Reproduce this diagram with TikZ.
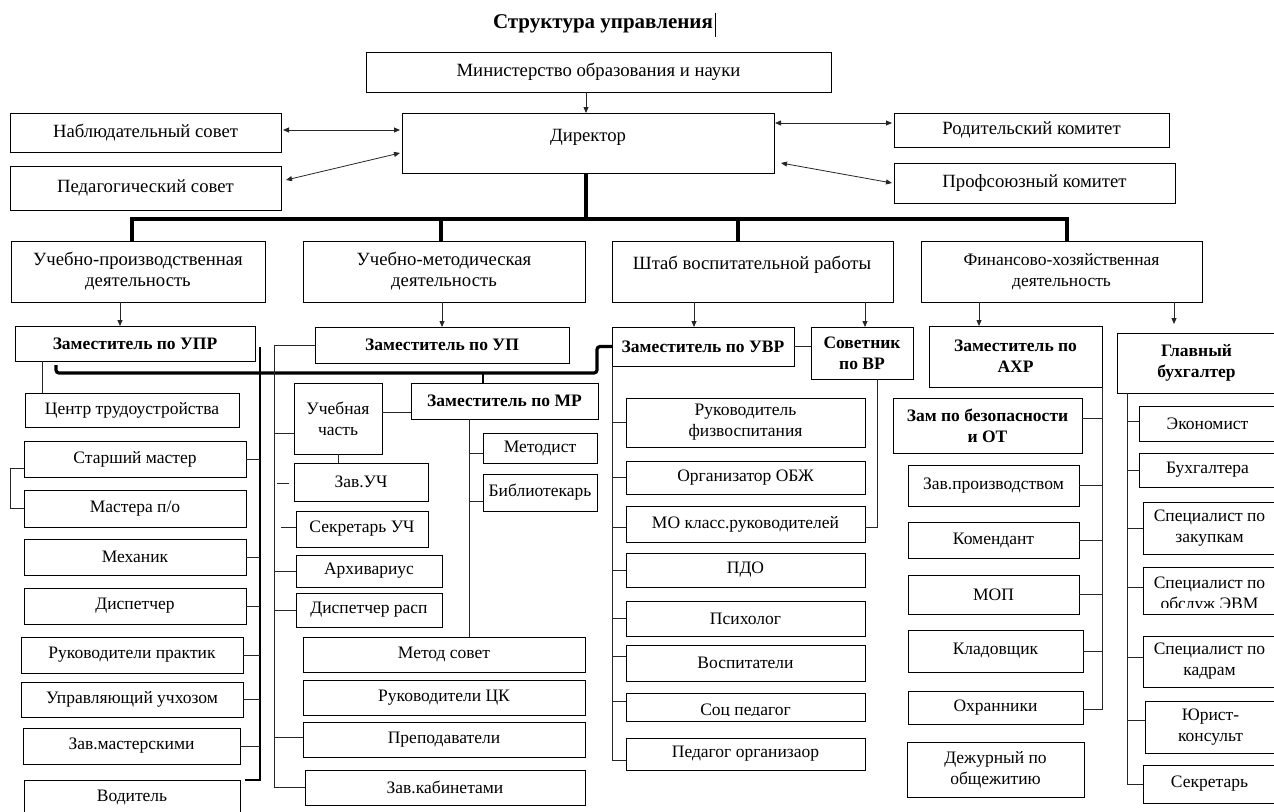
\documentclass[tikz,border=0pt]{standalone}
\usepackage{fontspec}
\setmainfont{Liberation Serif}
\usetikzlibrary{arrows.meta}
\newcommand\fs{\fontsize{17.5}{21}\selectfont}
\newcommand\fsb{\fontsize{18.7}{21}\selectfont}
\newcommand\bx[7][]{%
  \pgfmathsetmacro\bxw{#5-#3}\pgfmathsetmacro\bxh{#6-#4}%
  \pgfmathsetmacro\bxx{(#3+#5)/2}\pgfmathsetmacro\bxy{(#4+#6)/2}%
  \node[box,minimum width=\bxw pt,minimum height=\bxh pt,#1] (#2) at (\bxx,\bxy) {#7};}
\tikzset{
  box/.style={draw=black, line width=0.9pt, inner sep=0pt, outer sep=0pt, align=center, font=\fs},
  bf/.style={font=\fs\bfseries},
  big/.style={font=\fsb},
  txt/.style={inner sep=0pt, font=\fs, align=center},
  conn/.style={draw=black!85, line width=0.8pt},
  arr/.style={conn, -{Triangle[length=6pt,width=5pt]}},
  dbl/.style={conn, {Triangle[length=6pt,width=5pt]}-{Triangle[length=6pt,width=5pt]}},
  thickl/.style={line width=3.2pt},
  spine/.style={draw=black, line width=1.6pt},
}
\begin{document}
\begin{tikzpicture}[x=1pt,y=-1pt]
\useasboundingbox (0,0) rectangle (1274,811);
\fill[white] (0,0) rectangle (1274,811);
\clip (0,0) rectangle (1274,811);

% title
\node[inner sep=0pt, font=\fontsize{21}{24}\selectfont\bfseries] (title) at (603,24) {Структура управления};
\draw[line width=0.7pt] ([xshift=2pt,yshift=2pt]title.north east) -- ([xshift=2pt,yshift=-4pt]title.south east);

% top level
\bx[big]{min}{366}{52}{831}{92}{Министерство образования и науки}
\bx{dir}{402}{113}{774}{173}{}
\node[txt, font=\fsb] (dirt) at (588,137) {Директор};
\bx[big]{nab}{10}{113}{281}{152}{Наблюдательный совет}
\bx[big]{ped}{10}{166}{281}{210}{Педагогический совет}
\bx[big]{rod}{894}{113}{1169}{147}{Родительский комитет}
\bx[big]{prof}{894}{163}{1175}{203}{Профсоюзный комитет}

\coordinate (cx) at (586,0);
\draw[arr] (min.south -| cx) -- (dir.north -| cx);
\draw[dbl] ([xshift=2pt,yshift=2.5pt]nab.east) -- ([xshift=-2pt,yshift=13pt]dir.west);
\draw[dbl] ([xshift=5pt,yshift=8pt]ped.east) -- ([xshift=-2pt,yshift=-10pt]dir.west);
\draw[dbl] ([xshift=1pt,yshift=20pt]dir.east) -- ([xshift=-2pt,yshift=7pt]rod.west);
\draw[dbl] ([xshift=7pt,yshift=-20pt]dir.east) -- ([xshift=-2pt]prof.west);

% level 2
\bx[big]{upr}{11}{241}{265}{302}{Учебно-производственная\\деятельность}
\bx[big]{um}{303}{241}{585}{302}{Учебно-методическая\\деятельность}
\bx{sht}{612}{241}{893}{302}{}
\node[txt, font=\fsb] (shtt) at (752,265) {Штаб воспитательной работы};
\bx{fin}{921}{241}{1202}{302}{Финансово-хозяйственная\\деятельность}

\coordinate (d1) at (132,219);
\coordinate (d2) at (441,219);
\coordinate (d3) at (738,219);
\coordinate (d4) at (1067,219);
\draw[thickl] (dir.south -| cx) -- (cx |- d1);
\draw[thickl] (d1 |- upr.north) -- (d1) -- (d4) -- (d4 |- fin.north);
\draw[thickl] (d2) -- (d2 |- um.north);
\draw[thickl] (d3) -- (d3 |- sht.north);

% level 3
\bx[bf]{zupr}{15}{326}{255}{361}{Заместитель по УПР}
\bx[bf]{zup}{315}{327}{569}{363}{Заместитель по УП}
\bx[bf]{zuvr}{612}{327}{794}{366}{Заместитель по УВР}
\bx[bf]{sov}{811}{327}{913}{379}{Советник\\по ВР}
\bx[bf]{zaxr}{929}{326}{1102}{387}{Заместитель по\\АХР}
\bx[bf]{gb}{1117}{333}{1276}{393}{Главный\\бухгалтер}

\coordinate (a1) at (120,0);
\coordinate (a2) at (442,0);
\coordinate (a3) at (694,0);
\coordinate (a4) at (865,0);
\coordinate (a5) at (979,0);
\coordinate (a6) at (1174,0);
\draw[arr] (upr.south -| a1) -- (zupr.north -| a1);
\draw[arr] (um.south -| a2) -- (zup.north -| a2);
\draw[arr] (sht.south -| a3) -- (zuvr.north -| a3);
\draw[arr] (sht.south -| a4) -- (sov.north -| a4);
\draw[arr] (fin.south -| a5) -- (zaxr.north -| a5);
\draw[arr, shorten >=9pt] (fin.south -| a6) -- (gb.north -| a6);

% thick link line
\coordinate (L1) at (56,365);
\coordinate (L2) at (597,373);
\coordinate (L3) at (483,373);
\draw[thickl, rounded corners=3pt] (L1) |- (L2) |- (zuvr.west);

% ---- UPR column
\bx{ctr}{25}{393}{239}{427}{Центр трудоустройства}
\bx{stm}{24}{441}{246}{477}{Старший мастер}
\bx{mpo}{24}{490}{246}{527}{Мастера п/о}
\bx{mech}{24}{539}{246}{575}{Механик}
\bx{disp}{24}{588}{246}{624}{Диспетчер}
\bx{rp}{21}{637}{243}{673}{Руководители практик}
\bx{uu}{21}{682}{243}{717}{Управляющий учхозом}
\bx{zm}{23}{728}{240}{764}{Зав.мастерскими}
\bx{vod}{24}{780}{240}{815}{Водитель}

\coordinate (s1t) at (260,347);
\coordinate (s1b) at (260,780);
\draw[spine] (s1t) -- (s1b) -- ([xshift=5pt]vod.north east);
\foreach \n in {stm,mech,disp,rp,uu,zm} \draw[conn] (\n.east) -- (\n.east -| s1t);
\coordinate (c1) at (42,0);
\draw[conn] (zupr.south -| c1) -- (ctr.north -| c1);
\coordinate (br) at (10,0);
\draw[conn] ([yshift=-9pt]stm.west) -| (br |- mpo.west) -- (mpo.west);

% ---- UP column
\bx{uchch}{294}{383}{382}{454}{Учебная\\часть}
\bx[bf]{zmr}{411}{383}{598}{419}{Заместитель по МР}
\bx{zuch}{294}{463}{428}{501}{Зав.УЧ}
\bx{sekr}{296}{511}{428}{547}{Секретарь УЧ}
\bx{arh}{296}{555}{442}{587}{Архивариус}
\bx{dr}{296}{593}{442}{627}{Диспетчер расп}
\bx{metd}{483}{433}{597}{463}{Методист}
\bx{bibl}{483}{474}{597}{511}{Библиотекарь}
\bx{metsov}{303}{637}{585}{672}{Метод совет}
\bx{rck}{303}{680}{585}{715}{Руководители ЦК}
\bx{prep}{303}{722}{585}{757}{Преподаватели}
\bx{zkab}{305}{770}{585}{805}{Зав.кабинетами}

\coordinate (s2) at (274,0);
\draw[conn] (zup.west) -- (zup.west -| s2) -- (s2 |- zkab.west) -- (zkab.west);
\draw[conn] ([yshift=-14.5pt]uchch.west) -- ++(-20,0);
\draw[conn] ([xshift=-5pt,yshift=-1pt]zuch.west) -- ++(-12,0);
\draw[conn] ([yshift=2pt]sekr.west) -- ++(-15,0);
\draw[conn] (arh.west) -- (arh.west -| s2);
\draw[conn] (dr.west) -- (dr.west -| s2);
\draw[conn] ([yshift=2pt]prep.west) -- ++(-29,0);
\draw[conn] ([yshift=6.5pt]uchch.east) -- ++(29,0);
\draw[conn] (uchch.south) -- (uchch.south |- zuch.north);
\draw[line width=2pt] (L3) -- (L3 |- zmr.north);
\coordinate (s3) at (469,0);
\draw[conn] (zmr.south -| s3) -- (metsov.north -| s3);
\draw[conn] ([yshift=-5pt]metd.west) -- ++(-14,0);
\draw[conn] ([yshift=-8.5pt]bibl.west) -- ++(-14,0);

% ---- UVR column
\bx{rf}{626}{398}{865}{447}{Руководитель\\физвоспитания}
\bx{obzh}{626}{461}{865}{494}{Организатор ОБЖ}
\bx{mo}{626}{506}{865}{542}{МО класс.руководителей}
\bx{pdo}{626}{553}{865}{587}{ПДО}
\bx{psy}{626}{601}{865}{636}{Психолог}
\bx{vosp}{626}{645}{865}{681}{Воспитатели}
\bx{socp}{626}{693}{865}{721}{}
\begin{scope}
\clip (626,693) rectangle (865,715);
\node[font=\fs, inner sep=0pt, anchor=base] (socpt) at (745.5,715.5) {Соц педагог};
\end{scope}
\bx{po}{626}{738}{865}{770}{Педагог организаор}

\draw[conn] (zuvr.south west) |- ([yshift=-6pt]po.west);
\foreach \n in {rf,obzh,pdo,psy} \draw[conn] (\n.west) -- ++(-14,0);
\draw[conn] ([yshift=-3pt]mo.west) -- ++(-14,0);
\draw[conn] ([yshift=7pt]vosp.west) -- ++(-14,0);
\draw[conn] ([yshift=6pt]socp.west) -- ++(-14,0);
\draw[conn] (zuvr.east) -- (zuvr.east -| sov.west);
\draw[conn] ([xshift=15pt]sov.south) |- ([yshift=-3pt]mo.east);

% ---- AXR column
\bx[bf]{zbez}{893}{398}{1082}{453}{Зам по безопасности\\и ОТ}
\bx{zpr}{908}{465}{1079}{506}{Зав.производством}
\bx{kom}{908}{522}{1079}{558}{Комендант}
\bx{mop}{908}{575}{1079}{614}{МОП}
\bx{klad}{908}{630}{1083}{672}{Кладовщик}
\bx{ohr}{908}{691}{1083}{724}{Охранники}
\bx{dezh}{907}{742}{1084}{797}{Дежурный по\\общежитию}

\draw[conn] (zaxr.south east) |- ([yshift=-1.5pt]ohr.east);
\draw[conn] ([yshift=7.5pt]zbez.east) -- ++(20,0);
\foreach \n in {zpr,kom,mop} \draw[conn] (\n.east) -- ++(23,0);
\draw[conn] (klad.east) -- ++(19,0);

% ---- GB column
\bx{ek}{1139}{406}{1276}{441}{Экономист}
\bx{bh}{1139}{453}{1276}{487}{Бухгалтера}
\bx{sz}{1143}{502}{1276}{554}{Специалист по\\закупкам}
\bx{sevm}{1143}{567}{1276}{614}{}
\begin{scope}
\clip (1143,567) rectangle (1274,607);
\node[txt] (sevmt) at (1209.5,595) {Специалист по\\обслуж ЭВМ};
\end{scope}
\bx{sk}{1143}{636}{1276}{687}{Специалист по\\кадрам}
\bx{yur}{1145}{701}{1276}{753}{Юрист-\\консульт}
\bx{sekr2}{1143}{765}{1276}{803}{Секретарь}

\coordinate (s6) at (1127,0);
\draw[conn] (gb.south -| s6) |- (sekr2.west);
\draw[conn] ([yshift=2.5pt]ek.west) -- ++(-12,0);
\draw[conn] (bh.west) -- ++(-12,0);
\draw[conn] (sz.west) -- ++(-16,0);
\draw[conn] ([yshift=3.5pt]sevm.west) -- ++(-16,0);
\draw[conn] ([yshift=4.5pt]sk.west) -- ++(-16,0);
\draw[conn] ([yshift=7pt]yur.west) -- ++(-18,0);
\end{tikzpicture}
\end{document}
